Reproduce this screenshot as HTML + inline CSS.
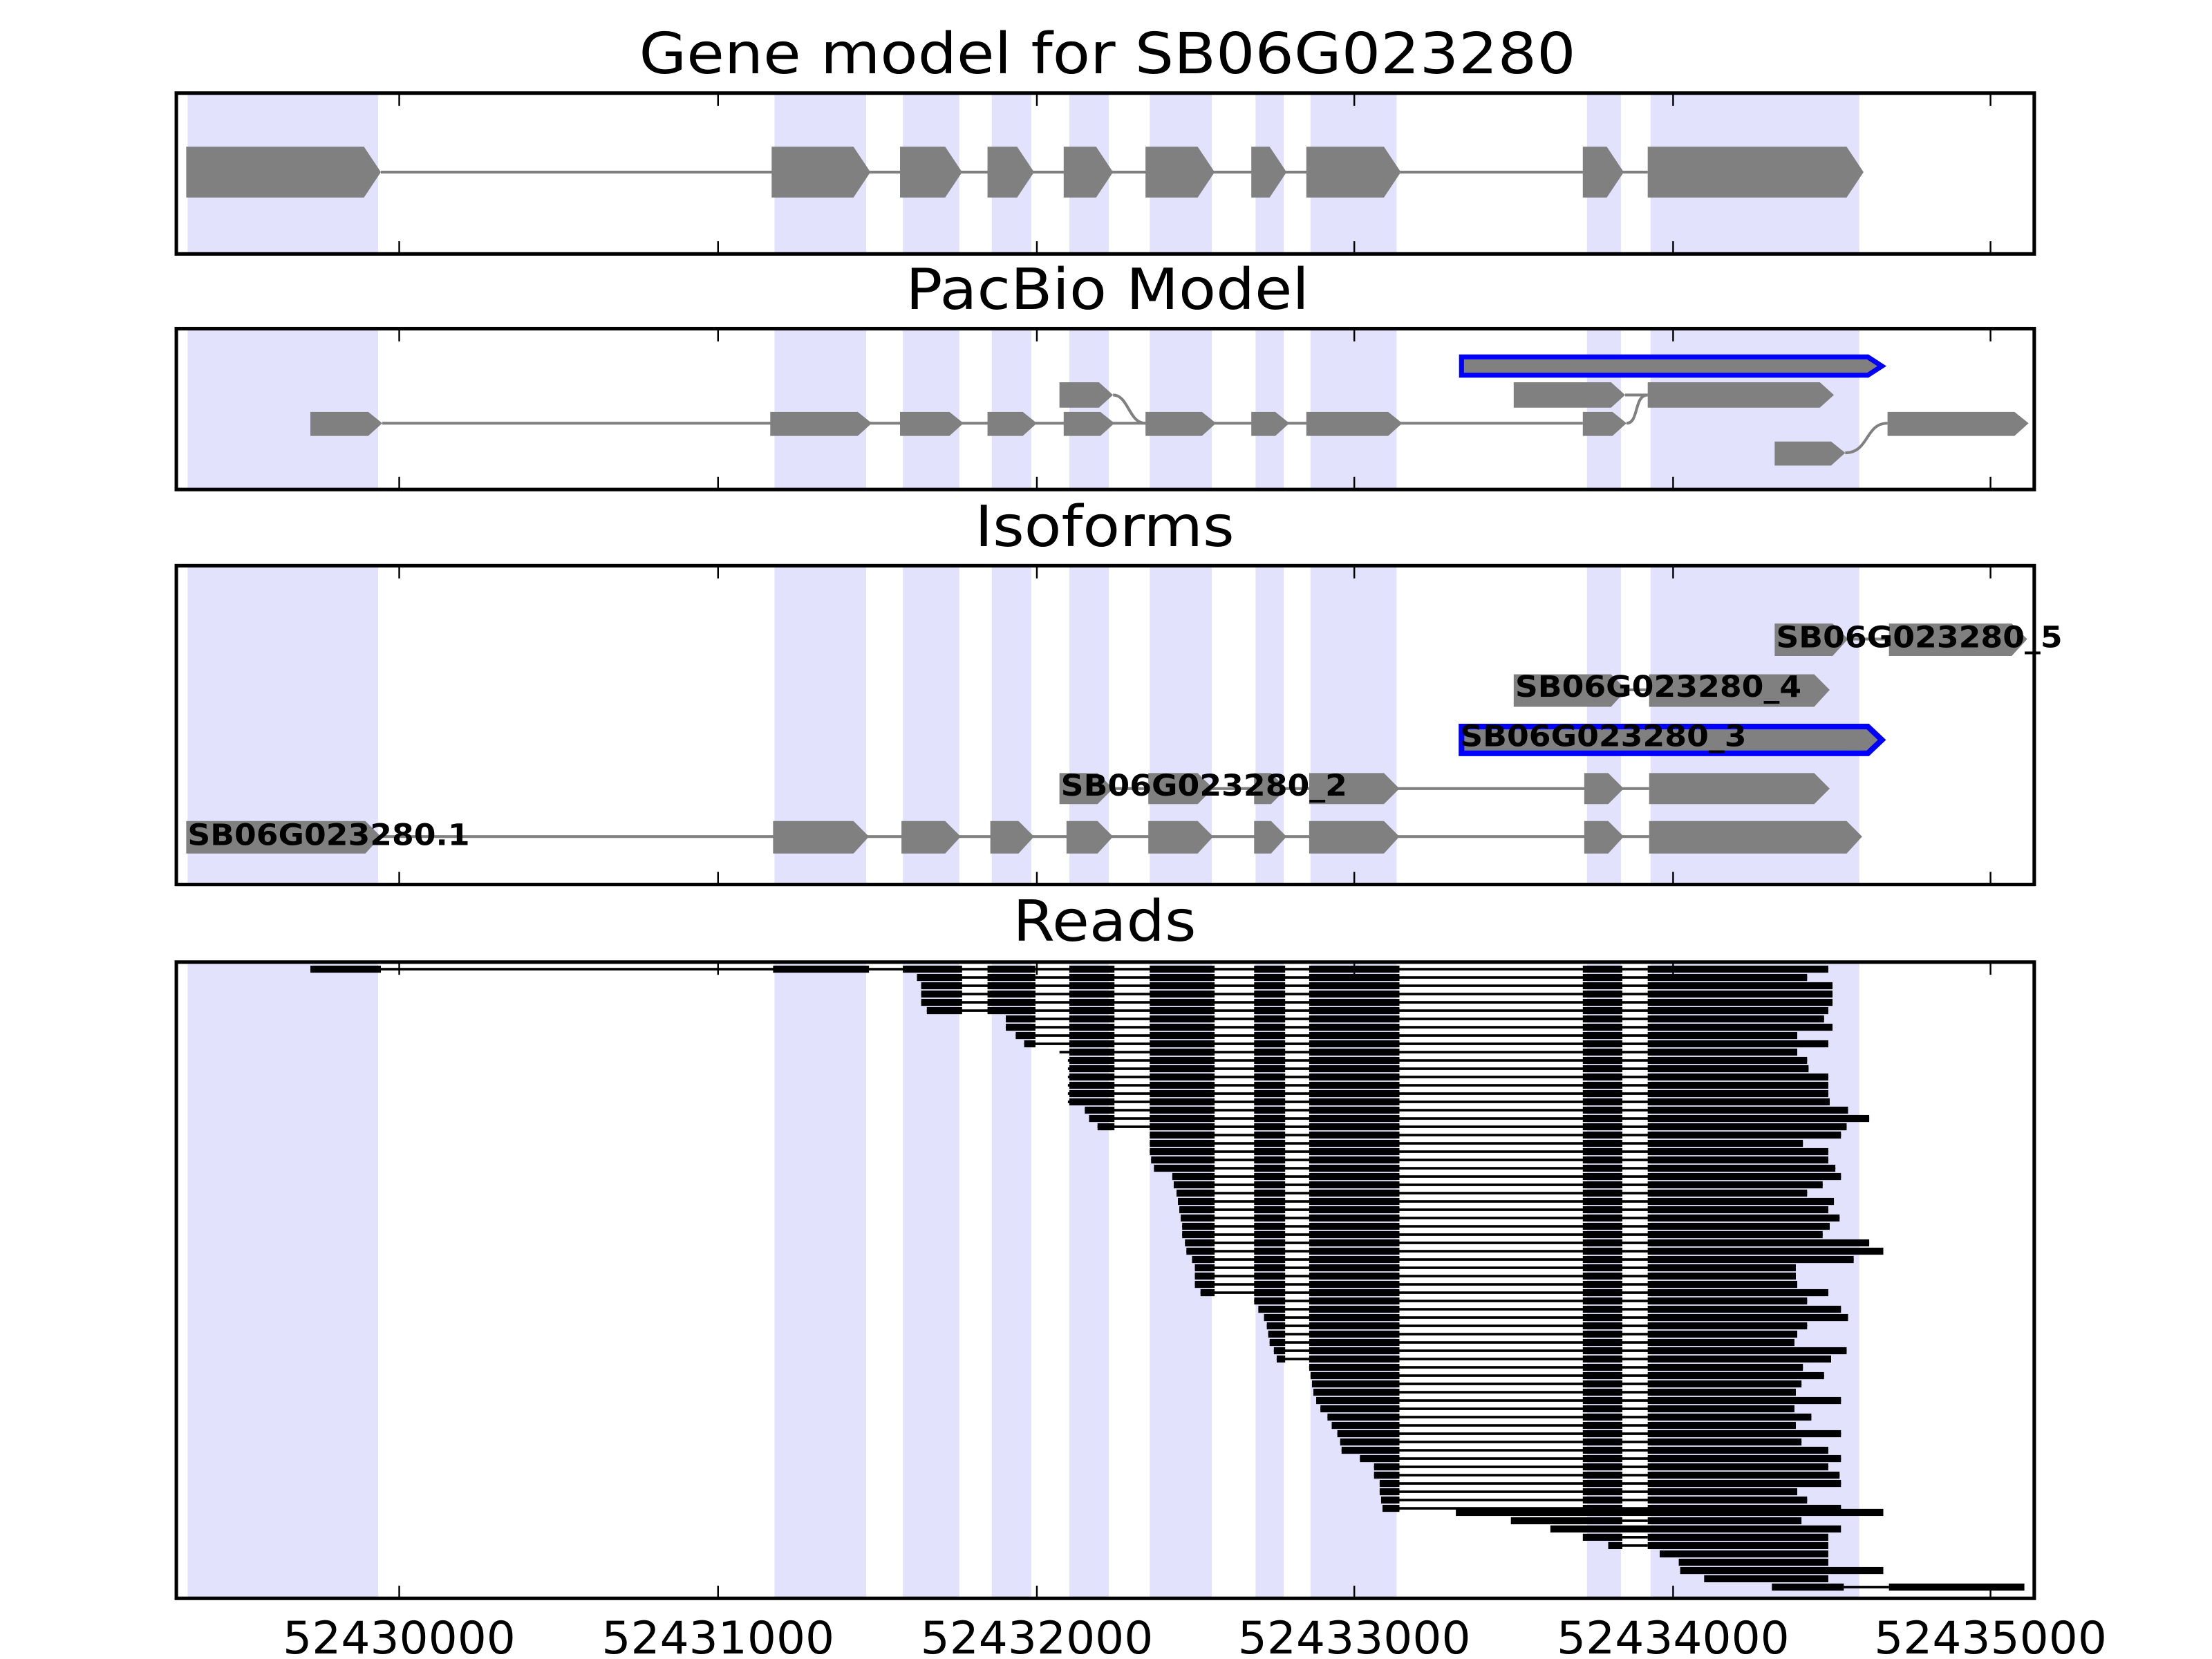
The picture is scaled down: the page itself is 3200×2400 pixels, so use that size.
<!DOCTYPE html>
<html><head><meta charset="utf-8"><style>html,body{margin:0;padding:0;background:#fff}svg{display:block}</style></head>
<body>
<svg width="3200" height="2400" viewBox="0 0 1568 1176" preserveAspectRatio="none" xmlns="http://www.w3.org/2000/svg" font-family="'DejaVu Sans','Liberation Sans',sans-serif">
<defs>
<g id="shade" fill="#e2e2fc">
<rect x="133" y="0" width="135" height="1"/><rect x="549" y="0" width="65" height="1"/><rect x="640" y="0" width="40" height="1"/><rect x="703" y="0" width="28" height="1"/><rect x="758" y="0" width="28" height="1"/><rect x="815" y="0" width="44" height="1"/><rect x="890" y="0" width="20" height="1"/><rect x="929" y="0" width="61" height="1"/><rect x="1125" y="0" width="24" height="1"/><rect x="1170" y="0" width="148" height="1"/>
</g>
<g id="ticks" stroke="#000" stroke-width="1.2">
<line x1="283" y1="0" x2="283" y2="8"/><line x1="509" y1="0" x2="509" y2="8"/><line x1="735" y1="0" x2="735" y2="8"/><line x1="960" y1="0" x2="960" y2="8"/><line x1="1186" y1="0" x2="1186" y2="8"/><line x1="1411" y1="0" x2="1411" y2="8"/>
</g>
<g id="rd" fill="#000">
<rect x="220" y="-0.9" width="1220" height="1.8"/>
<rect x="220" y="-2.5" width="50" height="5"/><rect x="548" y="-2.5" width="68" height="5"/><rect x="640" y="-2.5" width="42" height="5"/><rect x="700" y="-2.5" width="34" height="5"/><rect x="758" y="-2.5" width="32" height="5"/><rect x="815" y="-2.5" width="46" height="5"/><rect x="889" y="-2.5" width="22" height="5"/><rect x="928" y="-2.5" width="64" height="5"/><rect x="1122" y="-2.5" width="28" height="5"/><rect x="1168" y="-2.5" width="272" height="5"/>
</g>
</defs>

<use href="#shade" transform="translate(0,67) scale(1,112)"/>
<use href="#shade" transform="translate(0,234) scale(1,112)"/>
<use href="#shade" transform="translate(0,402) scale(1,224)"/>
<use href="#shade" transform="translate(0,683) scale(1,449)"/>

<g font-size="40" text-anchor="middle" fill="#000">
<text x="785" y="52" textLength="664" lengthAdjust="spacingAndGlyphs">Gene model for SB06G023280</text>
<text x="785" y="219" textLength="286" lengthAdjust="spacingAndGlyphs">PacBio Model</text>
<text x="783" y="387" textLength="184" lengthAdjust="spacingAndGlyphs">Isoforms</text>
<text x="783" y="667" textLength="130" lengthAdjust="spacingAndGlyphs">Reads</text>
</g>

<g fill="#808080">
<rect x="270" y="121" width="898" height="2"/>
<polygon points="132,104 258,104 270,122 258,140 132,140"/>
<polygon points="547,104 605,104 617,122 605,140 547,140"/>
<polygon points="638,104 670,104 682,122 670,140 638,140"/>
<polygon points="700,104 721,104 733,122 721,140 700,140"/>
<polygon points="754,104 777,104 789,122 777,140 754,140"/>
<polygon points="812,104 849,104 861,122 849,140 812,140"/>
<polygon points="887,104 900,104 912,122 900,140 887,140"/>
<polygon points="926,104 981,104 993,122 981,140 926,140"/>
<polygon points="1122,104 1139,104 1151,122 1139,140 1122,140"/>
<polygon points="1168,104 1309,104 1321,122 1309,140 1168,140"/>
</g>

<g fill="#808080">
<rect x="271" y="299" width="851" height="2"/>
<polygon points="220,292 261,292 271,300 261,309 220,309"/>
<polygon points="546,292 608,292 618,300 608,309 546,309"/>
<polygon points="638,292 673,292 683,300 673,309 638,309"/>
<polygon points="700,292 725,292 735,300 725,309 700,309"/>
<polygon points="754,292 780,292 790,300 780,309 754,309"/>
<polygon points="812,292 852,292 862,300 852,309 812,309"/>
<polygon points="887,292 904,292 914,300 904,309 887,309"/>
<polygon points="926,292 984,292 994,300 984,309 926,309"/>
<polygon points="1122,292 1143,292 1153,300 1143,309 1122,309"/>
<polygon points="751,271 779,271 789,280 779,289 751,289"/>
<polygon points="1073,271 1142,271 1152,280 1142,289 1073,289"/>
<rect x="1152" y="279" width="16" height="2"/>
<polygon points="1168,271 1290,271 1300,280 1290,289 1168,289"/>
<polygon points="1258,313 1298,313 1308,321 1298,330 1258,330"/>
<polygon points="1338,292 1428,292 1438,300 1428,309 1338,309"/>
</g>
<g fill="none" stroke="#808080" stroke-width="2">
<path d="M789,280 C800,280 800,300 812,300"/>
<path d="M1153,300 C1162,300 1158,280 1168,280"/>
<path d="M1308,321 C1325,321 1322,300 1338,300"/>
</g>
<polygon points="1036,253 1324,253 1334,259.5 1324,266 1036,266" fill="#808080" stroke="#0000ff" stroke-width="3.5"/>

<g fill="#808080">
<rect x="270" y="592" width="899" height="2"/>
<polygon points="132,582 259,582 270,593 259,605 132,605"/>
<polygon points="548,582 605,582 616,593 605,605 548,605"/>
<polygon points="639,582 670,582 681,593 670,605 639,605"/>
<polygon points="702,582 722,582 733,593 722,605 702,605"/>
<polygon points="756,582 778,582 789,593 778,605 756,605"/>
<polygon points="814,582 849,582 860,593 849,605 814,605"/>
<polygon points="889,582 901,582 912,593 901,605 889,605"/>
<polygon points="928,582 981,582 992,593 981,605 928,605"/>
<polygon points="1123,582 1140,582 1151,593 1140,605 1123,605"/>
<polygon points="1169,582 1309,582 1320,593 1309,605 1169,605"/>
<rect x="789" y="558" width="380" height="2"/>
<polygon points="751,548 778,548 789,559 778,570 751,570"/>
<polygon points="814,548 849,548 860,559 849,570 814,570"/>
<polygon points="889,548 901,548 912,559 901,570 889,570"/>
<polygon points="928,548 981,548 992,559 981,570 928,570"/>
<polygon points="1123,548 1140,548 1151,559 1140,570 1123,570"/>
<polygon points="1169,548 1286,548 1297,559 1286,570 1169,570"/>
<rect x="1153" y="488" width="16" height="2"/>
<polygon points="1073,478 1142,478 1153,489 1142,501 1073,501"/>
<polygon points="1169,478 1286,478 1297,489 1286,501 1169,501"/>
<rect x="1310" y="452" width="29" height="2"/>
<polygon points="1258,442 1299,442 1310,453 1299,465 1258,465"/>
<polygon points="1339,442 1426,442 1437,453 1426,465 1339,465"/>
</g>
<polygon points="1036,515 1324,515 1334,524.5 1324,534 1036,534" fill="#808080" stroke="#0000ff" stroke-width="4"/>
<g font-size="21" font-weight="bold" fill="#000">
<text x="133" y="599" textLength="200" lengthAdjust="spacingAndGlyphs">SB06G023280.1</text>
<text x="752" y="564" textLength="203" lengthAdjust="spacingAndGlyphs">SB06G023280_2</text>
<text x="1035" y="529" textLength="203" lengthAdjust="spacingAndGlyphs">SB06G023280_3</text>
<text x="1074" y="494" textLength="203" lengthAdjust="spacingAndGlyphs">SB06G023280_4</text>
<text x="1259" y="459" textLength="203" lengthAdjust="spacingAndGlyphs">SB06G023280_5</text>
</g>

<svg x="220" y="684" width="1076" height="6" viewBox="220 -3 1076 6"><use href="#rd"/></svg>
<svg x="650" y="689.88" width="631" height="6" viewBox="650 -3 631 6"><use href="#rd"/></svg>
<svg x="653" y="695.76" width="646" height="6" viewBox="653 -3 646 6"><use href="#rd"/></svg>
<svg x="653" y="701.64" width="646" height="6" viewBox="653 -3 646 6"><use href="#rd"/></svg>
<svg x="653" y="707.52" width="646" height="6" viewBox="653 -3 646 6"><use href="#rd"/></svg>
<svg x="657" y="713.4" width="639" height="6" viewBox="657 -3 639 6"><use href="#rd"/></svg>
<svg x="713" y="719.28" width="580" height="6" viewBox="713 -3 580 6"><use href="#rd"/></svg>
<svg x="713" y="725.16" width="586" height="6" viewBox="713 -3 586 6"><use href="#rd"/></svg>
<svg x="720" y="731.04" width="554" height="6" viewBox="720 -3 554 6"><use href="#rd"/></svg>
<svg x="726" y="736.92" width="570" height="6" viewBox="726 -3 570 6"><use href="#rd"/></svg>
<svg x="751" y="742.8" width="523" height="6" viewBox="751 -3 523 6"><use href="#rd"/></svg>
<svg x="757" y="748.68" width="524" height="6" viewBox="757 -3 524 6"><use href="#rd"/></svg>
<svg x="757" y="754.56" width="525" height="6" viewBox="757 -3 525 6"><use href="#rd"/></svg>
<svg x="757" y="760.44" width="539" height="6" viewBox="757 -3 539 6"><use href="#rd"/></svg>
<svg x="757" y="766.32" width="539" height="6" viewBox="757 -3 539 6"><use href="#rd"/></svg>
<svg x="757" y="772.2" width="539" height="6" viewBox="757 -3 539 6"><use href="#rd"/></svg>
<svg x="757" y="778.08" width="540" height="6" viewBox="757 -3 540 6"><use href="#rd"/></svg>
<svg x="769" y="783.96" width="541" height="6" viewBox="769 -3 541 6"><use href="#rd"/></svg>
<svg x="772" y="789.84" width="553" height="6" viewBox="772 -3 553 6"><use href="#rd"/></svg>
<svg x="778" y="795.72" width="531" height="6" viewBox="778 -3 531 6"><use href="#rd"/></svg>
<svg x="815" y="801.6" width="490" height="6" viewBox="815 -3 490 6"><use href="#rd"/></svg>
<svg x="815" y="807.48" width="463" height="6" viewBox="815 -3 463 6"><use href="#rd"/></svg>
<svg x="815" y="813.36" width="481" height="6" viewBox="815 -3 481 6"><use href="#rd"/></svg>
<svg x="816" y="819.24" width="480" height="6" viewBox="816 -3 480 6"><use href="#rd"/></svg>
<svg x="818" y="825.12" width="483" height="6" viewBox="818 -3 483 6"><use href="#rd"/></svg>
<svg x="831" y="831" width="474" height="6" viewBox="831 -3 474 6"><use href="#rd"/></svg>
<svg x="832" y="836.88" width="460" height="6" viewBox="832 -3 460 6"><use href="#rd"/></svg>
<svg x="834" y="842.76" width="447" height="6" viewBox="834 -3 447 6"><use href="#rd"/></svg>
<svg x="835" y="848.64" width="465" height="6" viewBox="835 -3 465 6"><use href="#rd"/></svg>
<svg x="836" y="854.52" width="460" height="6" viewBox="836 -3 460 6"><use href="#rd"/></svg>
<svg x="837" y="860.4" width="467" height="6" viewBox="837 -3 467 6"><use href="#rd"/></svg>
<svg x="838" y="866.28" width="459" height="6" viewBox="838 -3 459 6"><use href="#rd"/></svg>
<svg x="838" y="872.16" width="454" height="6" viewBox="838 -3 454 6"><use href="#rd"/></svg>
<svg x="840" y="878.04" width="485" height="6" viewBox="840 -3 485 6"><use href="#rd"/></svg>
<svg x="841" y="883.92" width="494" height="6" viewBox="841 -3 494 6"><use href="#rd"/></svg>
<svg x="845" y="889.8" width="469" height="6" viewBox="845 -3 469 6"><use href="#rd"/></svg>
<svg x="847" y="895.68" width="426" height="6" viewBox="847 -3 426 6"><use href="#rd"/></svg>
<svg x="847" y="901.56" width="426" height="6" viewBox="847 -3 426 6"><use href="#rd"/></svg>
<svg x="847" y="907.44" width="427" height="6" viewBox="847 -3 427 6"><use href="#rd"/></svg>
<svg x="851" y="913.32" width="445" height="6" viewBox="851 -3 445 6"><use href="#rd"/></svg>
<svg x="889" y="919.2" width="392" height="6" viewBox="889 -3 392 6"><use href="#rd"/></svg>
<svg x="892" y="925.08" width="413" height="6" viewBox="892 -3 413 6"><use href="#rd"/></svg>
<svg x="896" y="930.96" width="414" height="6" viewBox="896 -3 414 6"><use href="#rd"/></svg>
<svg x="898" y="936.84" width="383" height="6" viewBox="898 -3 383 6"><use href="#rd"/></svg>
<svg x="899" y="942.72" width="375" height="6" viewBox="899 -3 375 6"><use href="#rd"/></svg>
<svg x="900" y="948.6" width="372" height="6" viewBox="900 -3 372 6"><use href="#rd"/></svg>
<svg x="903" y="954.48" width="406" height="6" viewBox="903 -3 406 6"><use href="#rd"/></svg>
<svg x="905" y="960.36" width="393" height="6" viewBox="905 -3 393 6"><use href="#rd"/></svg>
<svg x="928" y="966.24" width="350" height="6" viewBox="928 -3 350 6"><use href="#rd"/></svg>
<svg x="929" y="972.12" width="364" height="6" viewBox="929 -3 364 6"><use href="#rd"/></svg>
<svg x="930" y="978" width="347" height="6" viewBox="930 -3 347 6"><use href="#rd"/></svg>
<svg x="931" y="983.88" width="342" height="6" viewBox="931 -3 342 6"><use href="#rd"/></svg>
<svg x="933" y="989.76" width="372" height="6" viewBox="933 -3 372 6"><use href="#rd"/></svg>
<svg x="936" y="995.64" width="336" height="6" viewBox="936 -3 336 6"><use href="#rd"/></svg>
<svg x="941" y="1001.52" width="343" height="6" viewBox="941 -3 343 6"><use href="#rd"/></svg>
<svg x="944" y="1007.4" width="329" height="6" viewBox="944 -3 329 6"><use href="#rd"/></svg>
<svg x="948" y="1013.28" width="357" height="6" viewBox="948 -3 357 6"><use href="#rd"/></svg>
<svg x="950" y="1019.16" width="327" height="6" viewBox="950 -3 327 6"><use href="#rd"/></svg>
<svg x="951" y="1025.04" width="345" height="6" viewBox="951 -3 345 6"><use href="#rd"/></svg>
<svg x="964" y="1030.92" width="341" height="6" viewBox="964 -3 341 6"><use href="#rd"/></svg>
<svg x="974" y="1036.8" width="322" height="6" viewBox="974 -3 322 6"><use href="#rd"/></svg>
<svg x="974" y="1042.68" width="330" height="6" viewBox="974 -3 330 6"><use href="#rd"/></svg>
<svg x="978" y="1048.56" width="327" height="6" viewBox="978 -3 327 6"><use href="#rd"/></svg>
<svg x="978" y="1054.44" width="296" height="6" viewBox="978 -3 296 6"><use href="#rd"/></svg>
<svg x="979" y="1060.32" width="302" height="6" viewBox="979 -3 302 6"><use href="#rd"/></svg>
<svg x="980" y="1066.2" width="325" height="6" viewBox="980 -3 325 6"><use href="#rd"/></svg>
<g fill="#000">
<rect x="1032" y="1069.6" width="303" height="5"/>
<rect x="1071" y="1075.5" width="79" height="5"/><rect x="1150" y="1077.1" width="18" height="1.8"/><rect x="1168" y="1075.5" width="109" height="5"/>
<rect x="1099" y="1081.3" width="206" height="5"/>
<rect x="1122" y="1087.2" width="28" height="5"/><rect x="1150" y="1088.8" width="18" height="1.8"/><rect x="1168" y="1087.2" width="128" height="5"/>
<rect x="1140" y="1093.1" width="10" height="5"/><rect x="1150" y="1094.7" width="18" height="1.8"/><rect x="1168" y="1093.1" width="128" height="5"/>
<rect x="1176.5" y="1099" width="119.5" height="5"/>
<rect x="1190" y="1104.9" width="106" height="5"/>
<rect x="1191" y="1110.8" width="144" height="5"/>
<rect x="1208" y="1116.6" width="88" height="5"/>
<rect x="1256" y="1122.5" width="51" height="5"/><rect x="1307" y="1124.1" width="32" height="1.8"/><rect x="1339" y="1122.5" width="96" height="5"/>
</g>

<use href="#ticks" transform="translate(0,67)"/>
<use href="#ticks" transform="translate(0,171)"/>
<use href="#ticks" transform="translate(0,234)"/>
<use href="#ticks" transform="translate(0,338)"/>
<use href="#ticks" transform="translate(0,402)"/>
<use href="#ticks" transform="translate(0,618)"/>
<use href="#ticks" transform="translate(0,683)"/>
<use href="#ticks" transform="translate(0,1124)"/>

<g fill="none" stroke="#000" stroke-width="2.5">
<rect x="125" y="66" width="1317" height="114"/>
<rect x="125" y="233" width="1317" height="114"/>
<rect x="125" y="401" width="1317" height="226"/>
<rect x="125" y="682" width="1317" height="451"/>
</g>

<g font-size="32" text-anchor="middle" fill="#000">
<text x="283" y="1172" textLength="165" lengthAdjust="spacingAndGlyphs">52430000</text>
<text x="509" y="1172" textLength="165" lengthAdjust="spacingAndGlyphs">52431000</text>
<text x="735" y="1172" textLength="165" lengthAdjust="spacingAndGlyphs">52432000</text>
<text x="960" y="1172" textLength="165" lengthAdjust="spacingAndGlyphs">52433000</text>
<text x="1186" y="1172" textLength="165" lengthAdjust="spacingAndGlyphs">52434000</text>
<text x="1411" y="1172" textLength="165" lengthAdjust="spacingAndGlyphs">52435000</text>
</g>
</svg>
</body></html>
